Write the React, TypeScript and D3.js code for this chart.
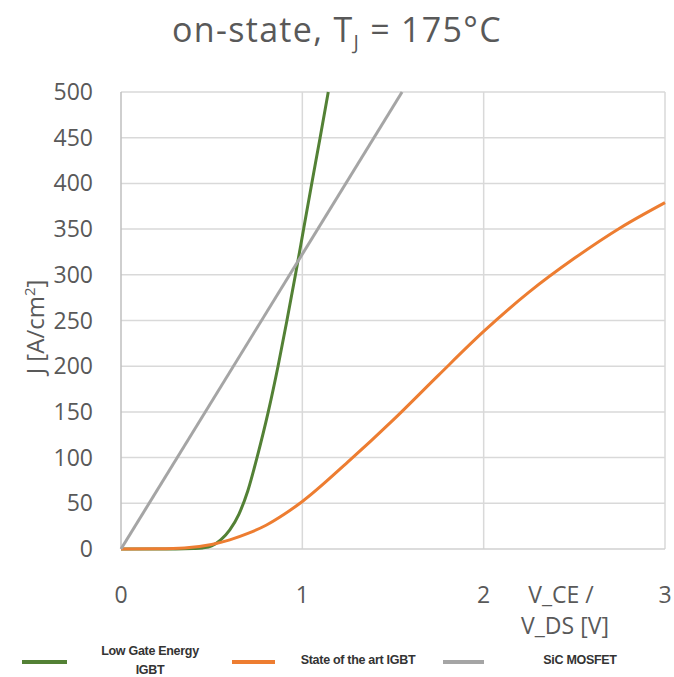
import React from 'react';
import * as d3 from 'd3';

// values (V, A/cm²)
const lowGateEnergyIgbt: [number, number][] = [
  [0, 0], [0.3, 0], [0.4, 0.5], [0.45, 1.2], [0.5, 3.5], [0.55, 10], [0.6, 21], [0.65, 38],
  [0.7, 64], [0.75, 100], [0.812, 150], [0.866, 200], [0.915, 250],
  [0.962, 300], [1.007, 350], [1.052, 400], [1.098, 450], [1.143, 500],
];
const stateOfTheArtIgbt: [number, number][] = [
  [0, 0], [0.2, 0.3], [0.35, 1.2], [0.5, 5], [0.6, 10], [0.7, 17], [0.8, 26],
  [0.9, 38], [1, 52], [1.25, 95], [1.5, 141], [1.75, 190], [2, 238],
  [2.25, 281], [2.5, 318], [2.75, 351], [3, 379],
];
const sicMosfet: [number, number][] = [[0, 0], [1.55, 500]];

const xTicks = [0, 1, 2, 3];
const yTicks = [0, 50, 100, 150, 200, 250, 300, 350, 400, 450, 500];

const series = [
  { name: ['Low Gate Energy', 'IGBT'], data: lowGateEnergyIgbt, color: '#538135' },
  { name: ['State of the art IGBT'], data: stateOfTheArtIgbt, color: '#ED7D31' },
  { name: ['SiC MOSFET'], data: sicMosfet, color: '#A5A5A5' },
];

const W = 674;
const H = 677;
const FONT = '"Open Sans", sans-serif';

export default function App() {
  const x = d3.scaleLinear().domain([0, 3]).range([121, 665]);
  const y = d3.scaleLinear().domain([0, 500]).range([549, 92]);

  const line = d3.line<[number, number]>()
    .x(d => x(d[0]))
    .y(d => y(d[1]))
    .curve(d3.curveMonotoneX);

  // legend layout: [line start, line end, text center]
  const legendPos = [
    [22, 67, 150],
    [232, 275, 358],
    [443, 484, 580],
  ];

  return (
    <svg width={W} height={H} style={{ position: 'absolute', left: 0, top: 0, background: '#fff' }}>
      <text x={337} y={42} textAnchor="middle" fontFamily={FONT} fontSize={34} letterSpacing={1.3} fill="#595959">
        on-state, T<tspan fontSize={20} dy={7}>J</tspan><tspan dy={-7}> = 175°C</tspan>
      </text>

      {/* grid */}
      {yTicks.filter(t => t > 0).map(t => (
        <line key={'gy' + t} x1={x(0)} x2={x(3)} y1={y(t)} y2={y(t)} stroke="#d9d9d9" strokeWidth={1.5} />
      ))}
      {xTicks.filter(t => t > 0).map(t => (
        <line key={'gx' + t} x1={x(t)} x2={x(t)} y1={y(0)} y2={y(500)} stroke="#d9d9d9" strokeWidth={1.5} />
      ))}
      <line x1={x(0)} x2={x(0)} y1={y(0)} y2={y(500)} stroke="#bfbfbf" strokeWidth={1.5} />
      <line x1={x(0)} x2={x(3)} y1={y(0)} y2={y(0)} stroke="#d0d0d0" strokeWidth={1.5} />

      {/* tick labels */}
      {yTicks.map(t => (
        <text key={'ty' + t} x={93} y={y(t)} dy="0.35em" textAnchor="end" fontFamily={FONT} fontSize={23} fill="#595959">
          {t}
        </text>
      ))}
      {xTicks.map(t => (
        <text key={'tx' + t} x={x(t)} y={595} dy="0.35em" textAnchor="middle" fontFamily={FONT} fontSize={23} fill="#595959">
          {t}
        </text>
      ))}

      {/* axis titles */}
      <text x={561} y={595} dy="0.35em" textAnchor="middle" fontFamily={FONT} fontSize={23} fill="#595959">V_CE /</text>
      <text x={565} y={626} dy="0.35em" textAnchor="middle" fontFamily={FONT} fontSize={23} fill="#595959">V_DS [V]</text>
      <text transform="translate(36,327) rotate(-90)" textAnchor="middle" dy="0.35em" fontFamily={FONT} fontSize={24} fill="#595959">
        J [A/cm<tspan fontSize={15} dy={-9}>2</tspan><tspan dy={9}>]</tspan>
      </text>

      {/* curves */}
      {series.map(s => (
        <path key={s.name.join(' ')} d={line(s.data) || ''} fill="none" stroke={s.color} strokeWidth={3} strokeLinejoin="round" />
      ))}

      {/* legend */}
      {series.map((s, i) => {
        const [l0, l1, tc] = legendPos[i];
        return (
          <g key={'lg' + i}>
            <line x1={l0} x2={l1} y1={662} y2={662} stroke={s.color} strokeWidth={4} />
            {s.name.map((n, j) => (
              <text key={j} x={tc} y={s.name.length > 1 ? 651 + j * 19 : 660} dy="0.35em" textAnchor="middle"
                fontFamily='"Liberation Sans", Arial, sans-serif' fontWeight="bold" fontSize={12.5} fill="#333"
                letterSpacing={-0.3}>
                {n}
              </text>
            ))}
          </g>
        );
      })}
    </svg>
  );
}
